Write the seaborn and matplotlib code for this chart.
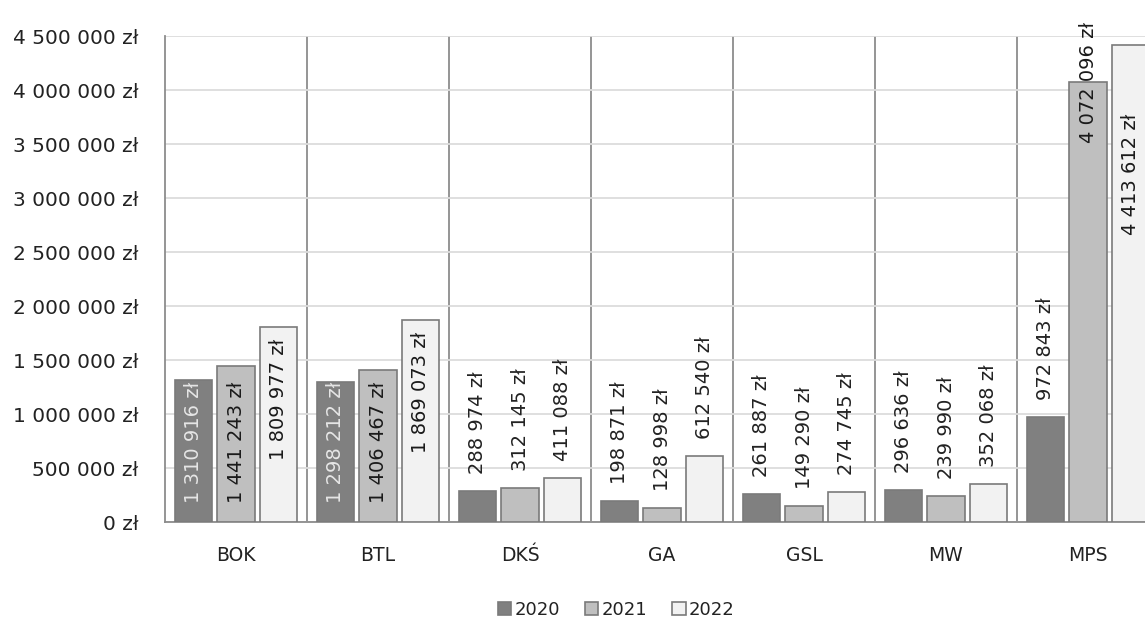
import pandas as pd
import numpy as np
import seaborn as sns
import matplotlib.pyplot as plt
from matplotlib.ticker import FuncFormatter, FixedLocator

# data
categories = ["BOK", "BTL", "DKŚ", "GA", "GSL", "MW", "MPS"]
years = ["2020", "2021", "2022"]
v2020 = [1310916, 1298212, 288974, 198871, 261887, 296636, 972843]
v2021 = [1441243, 1406467, 312145, 128998, 149290, 239990, 4072096]
v2022 = [1809977, 1869073, 411088, 612540, 274745, 352068, 4413612]
yticks = np.arange(0, 4500001, 500000)

colors = {"2020": "#808080", "2021": "#bfbfbf", "2022": "#f2f2f2"}
label_colors = {"2020": "#e6e6e6", "2021": "#1a1a1a", "2022": "#1a1a1a"}
edge = "#7a7a7a"
txt = "#222222"

df = pd.DataFrame({
    "Kategoria": categories * 3,
    "Rok": [y for y in years for _ in categories],
    "Kwota": v2020 + v2021 + v2022,
})


def zl(v, pos=None):
    return f"{int(round(v)):,}".replace(",", " ") + " zł"


sns.set_style("white")
fig = plt.figure(figsize=(11.45, 6.19), dpi=100)
ax = fig.add_axes([165 / 1145, 97 / 619, 994 / 1145, 486 / 619])

sns.barplot(data=df, x="Kategoria", y="Kwota", hue="Rok", order=categories,
            hue_order=years, palette=colors, width=0.89, gap=0.12,
            edgecolor=edge, linewidth=1.2, saturation=1, ax=ax, zorder=3)

ax.set_xlim(-0.5, len(categories) - 0.5)
ax.set_ylim(0, 4500000)
ax.set_yticks(yticks)
ax.yaxis.set_major_formatter(FuncFormatter(zl))
ax.set_xlabel("")
ax.set_ylabel("")

# grid: light horizontal, darker separators between categories
ax.grid(axis="y", color="#dcdcdc", linewidth=1.3, zorder=0)
ax.xaxis.set_minor_locator(FixedLocator(np.arange(0.5, len(categories) - 0.5, 1)))
ax.grid(axis="x", which="minor", color="#8c8c8c", linewidth=1.3, zorder=1)
ax.set_axisbelow(True)
ax.tick_params(axis="x", which="major", length=0, pad=17, labelsize=13.5, labelcolor=txt)
ax.tick_params(axis="x", which="minor", length=8, width=1.3, color="#8c8c8c", direction="out")
ax.tick_params(axis="y", length=7, width=1.3, color="#8c8c8c", pad=12,
               labelsize=14.5, labelcolor=txt)

for s in ["top", "right"]:
    ax.spines[s].set_visible(False)
for s in ["left", "bottom"]:
    ax.spines[s].set_color("#8c8c8c")
    ax.spines[s].set_linewidth(1.3)

# data labels
special = {("MPS", "2021"): ("center", 0), ("MPS", "2022"): ("top", -68)}
for yr, cont in zip(years, ax.containers):
    for cat, bar in zip(categories, cont):
        v = bar.get_height()
        x = bar.get_x() + bar.get_width() / 2
        col = txt
        if (cat, yr) in special:
            va, off = special[(cat, yr)]
            y = v
            col = label_colors[yr]
        elif v >= 1600000:
            va, off, y = "top", -12, v
            col = label_colors[yr]
        elif v >= 1000000:
            va, off, y = "bottom", 19, 0
            col = label_colors[yr]
        else:
            va, off, y = "bottom", 17, v
        ax.annotate(zl(v), (x, y), xytext=(0, off), textcoords="offset pixels",
                    rotation=90, ha="center", va=va, fontsize=14, color=col,
                    zorder=5, annotation_clip=False)

ax.legend(loc="center", bbox_to_anchor=(616 / 1145, 1 - 610 / 619),
          bbox_transform=fig.transFigure, ncol=3, frameon=False,
          handlelength=0.75, handleheight=0.75, handletextpad=0.15,
          columnspacing=1.4, fontsize=13, labelcolor=txt)

fig.savefig("out.png", dpi=100)
